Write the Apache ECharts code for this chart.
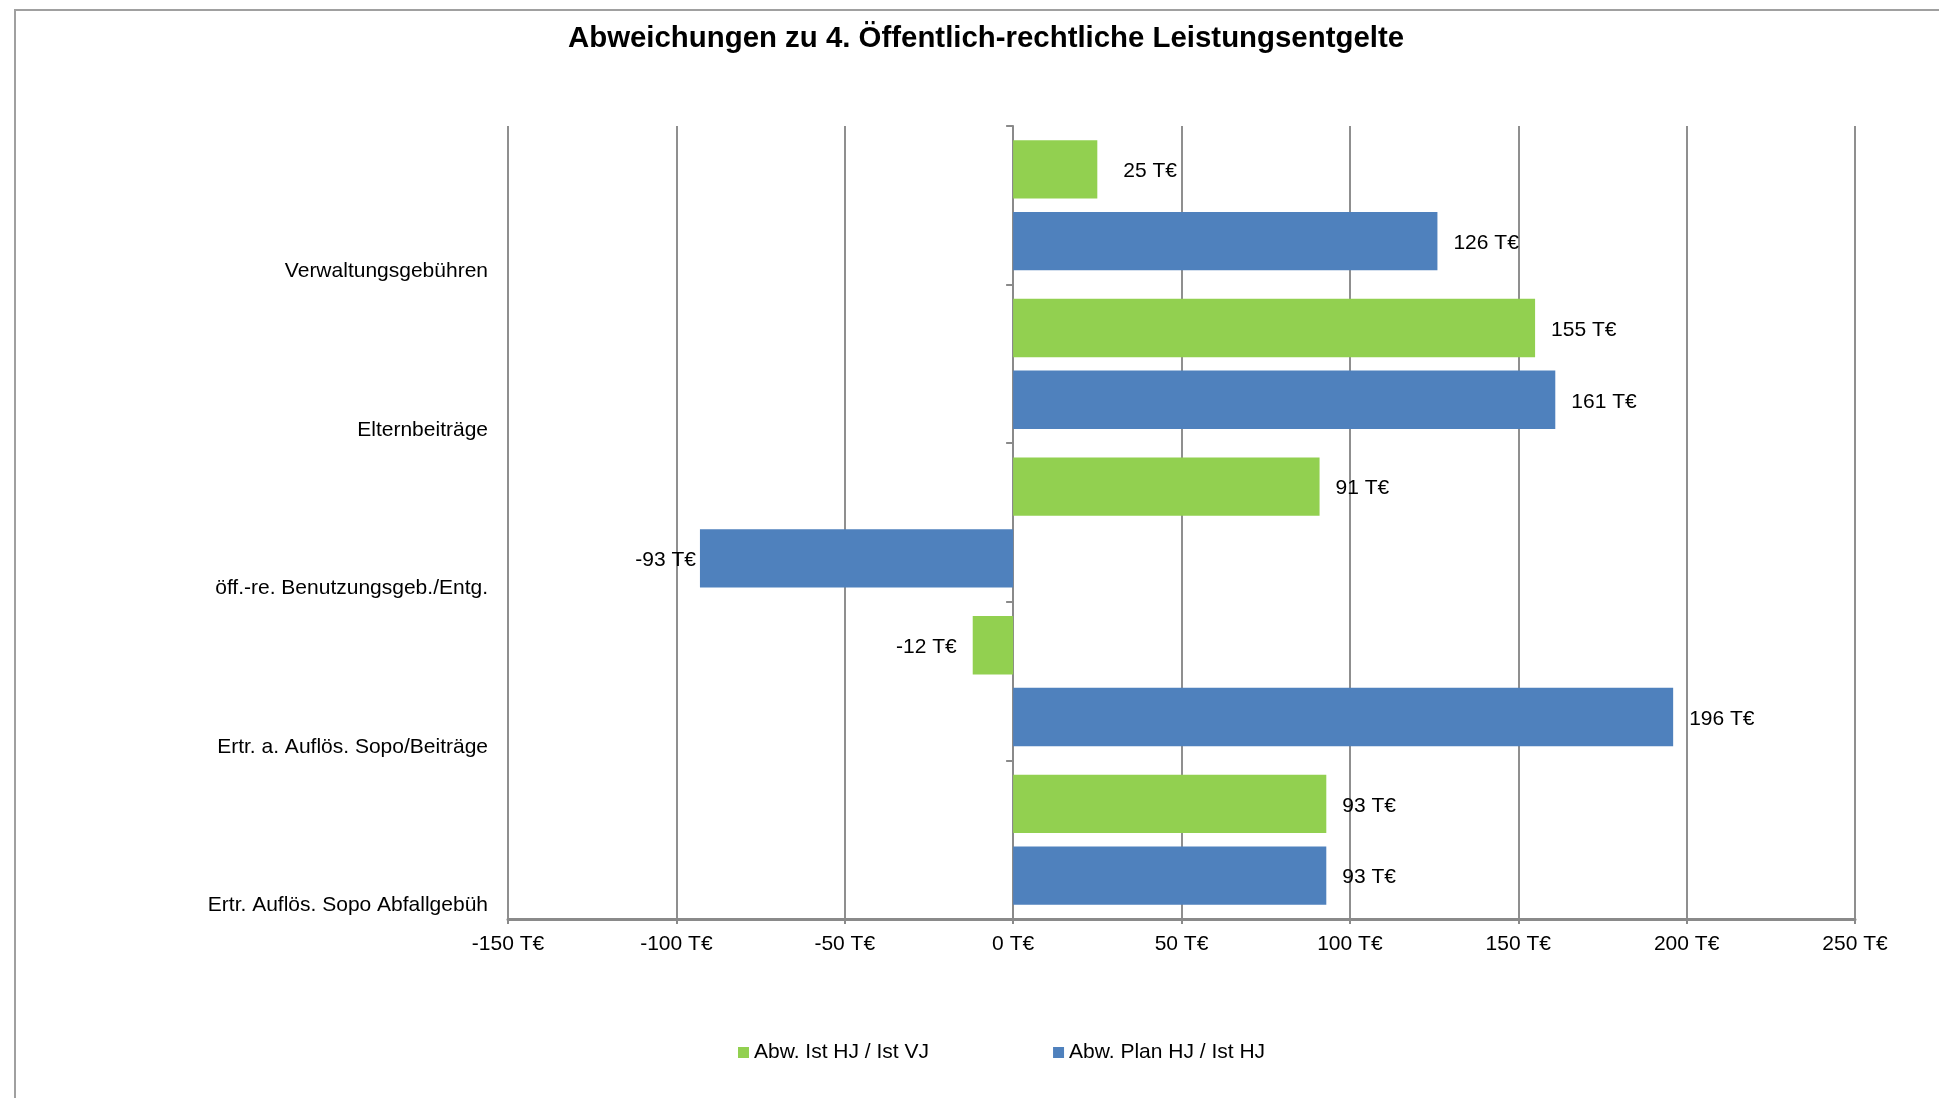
<!DOCTYPE html>
<html>
<head>
<meta charset="utf-8">
<script src="https://cdn.jsdelivr.net/npm/echarts@6/dist/echarts.min.js"></script>
<style>
  html, body { margin: 0; padding: 0; background: #fff; overflow: hidden; }
  #chart { width: 1939px; height: 1098px; }
  #frame { position: absolute; left: 14px; top: 9px; width: 3000px; height: 3000px;
           border-left: 2px solid #a0a0a0; border-top: 2px solid #a0a0a0; pointer-events: none; }
</style>
</head>
<body>
<div id="chart"></div>
<div id="frame"></div>
<script>
// Kategorien (von oben nach unten)
var categories = [
  'Verwaltungsgebühren',
  'Elternbeiträge',
  'öff.-re. Benutzungsgeb./Entg.',
  'Ertr. a. Auflös. Sopo/Beiträge',
  'Ertr. Auflös. Sopo Abfallgebüh'
];
var seriesNames = ['Abw. Ist HJ / Ist VJ', 'Abw. Plan HJ / Ist HJ'];
var istVjValues = [25, 155, 91, -12, 93];     // grün
var planHjValues = [126, 161, -93, 196, 93];  // blau
var axisMin = -150, axisMax = 250, axisStep = 50;

var font = 'Liberation Sans, Arial, sans-serif';
var chart = echarts.init(document.getElementById('chart'));

function barLabel() {
  return {
    show: true,
    position: 'right',
    distance: 16,
    offset: [0, 2],
    color: '#000',
    fontSize: 21,
    fontFamily: font,
    formatter: function (p) { return p.value + ' T€'; }
  };
}

function toItems(values, tweaks) {
  return values.map(function (v, i) {
    var lab = { position: v < 0 ? 'left' : 'right' };
    if (tweaks && tweaks[i] != null) lab.distance = tweaks[i];
    return { value: v, label: lab };
  });
}

chart.setOption({
  backgroundColor: '#fff',
  animation: false,
  title: {
    text: 'Abweichungen zu 4. Öffentlich-rechtliche Leistungsentgelte',
    left: 981,
    top: 19,
    textAlign: 'center',
    textStyle: { color: '#000', fontSize: 29.4, fontWeight: 'bold', fontFamily: font }
  },
  legend: {
    left: 733,
    top: 1037,
    icon: 'rect',
    itemWidth: 11,
    itemHeight: 11,
    itemGap: 124,
    textStyle: { color: '#000', fontSize: 21, fontFamily: font },
    data: seriesNames
  },
  grid: { left: 508, right: 84, top: 126, bottom: 179 },
  xAxis: {
    type: 'value',
    min: axisMin,
    max: axisMax,
    interval: axisStep,
    axisLine: { show: true, onZero: false, lineStyle: { color: '#8a8a8a', width: 3 } },
    axisTick: { show: true, length: 5, lineStyle: { color: '#8a8a8a', width: 2 } },
    axisLabel: {
      color: '#000', fontSize: 21, fontFamily: font, margin: 15,
      formatter: '{value} T€'
    },
    splitLine: { show: true, lineStyle: { color: '#8f8f8f', width: 2 } }
  },
  yAxis: [
    {
      type: 'category',
      inverse: true,
      data: categories,
      axisLine: { show: false, onZero: false },
      axisTick: { show: false },
      axisLabel: {
        color: '#000', fontSize: 21, fontFamily: font, margin: 20,
        verticalAlign: 'top',
        lineHeight: 132
      }
    },
    {
      type: 'category',
      inverse: true,
      data: categories,
      position: 'left',
      axisLine: { show: true, onZero: true, lineStyle: { color: '#8a8a8a', width: 2 } },
      axisTick: { show: true, length: 7, lineStyle: { color: '#8a8a8a', width: 2 } },
      axisLabel: { show: false }
    }
  ],
  series: [
    {
      name: seriesNames[0],
      type: 'bar',
      yAxisIndex: 0,
      barCategoryGap: '18%',
      barGap: '23%',
      itemStyle: { color: '#92D050' },
      label: barLabel(),
      data: toItems(istVjValues, { 0: 26 })
    },
    {
      name: seriesNames[1],
      type: 'bar',
      yAxisIndex: 0,
      barCategoryGap: '18%',
      barGap: '23%',
      itemStyle: { color: '#4F81BD' },
      label: barLabel(),
      data: toItems(planHjValues, { 2: 4 })
    }
  ]
});
</script>
</body>
</html>
